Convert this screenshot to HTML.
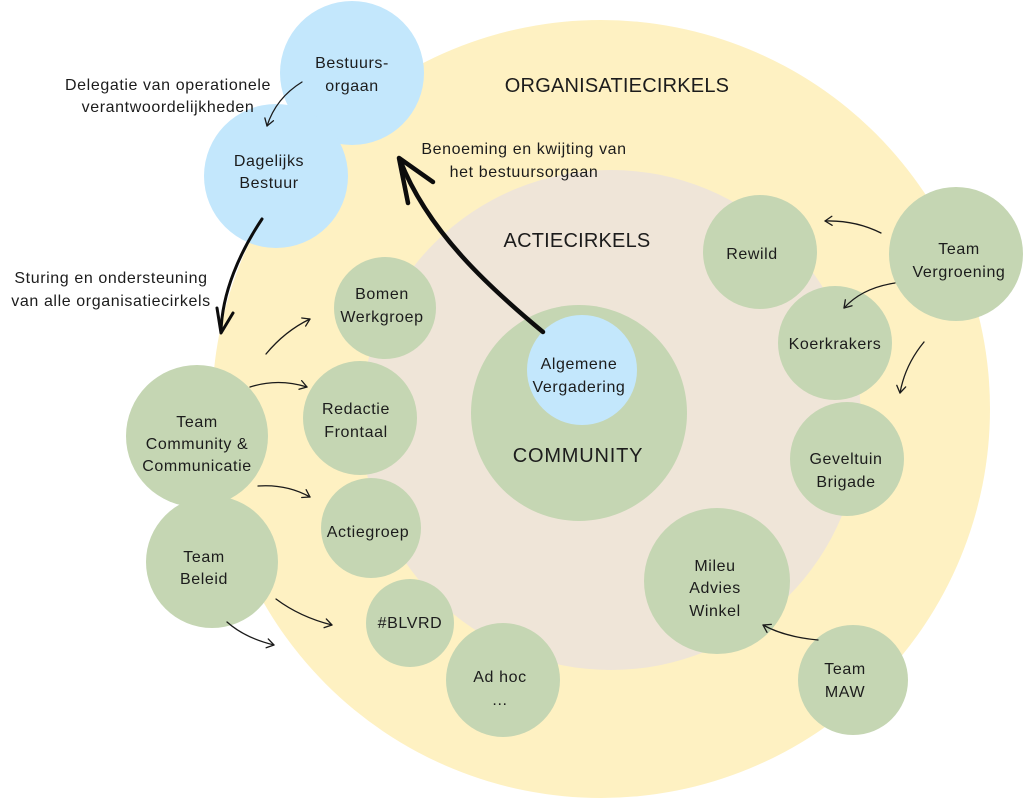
<!DOCTYPE html>
<html><head><meta charset="utf-8"><style>
html,body{margin:0;padding:0;background:#fff;}
svg{display:block;}
text{font-family:"Liberation Sans",sans-serif;fill:#1c1c1c;}
.n{font-size:16px;letter-spacing:0.6px;text-anchor:middle;}
.h{font-size:20px;letter-spacing:0.2px;text-anchor:middle;}
.t{fill:none;stroke:#1a1a1a;stroke-width:1.3;stroke-linecap:round;}
</style></head><body>
<svg width="1024" height="799" viewBox="0 0 1024 799" xmlns="http://www.w3.org/2000/svg">
<defs>
<marker id="a" markerWidth="12" markerHeight="12" refX="9" refY="6" orient="auto" markerUnits="userSpaceOnUse">
<path d="M2,1.5 L9,6 L2,10.5" fill="none" stroke="#1a1a1a" stroke-width="1.3" stroke-linecap="round" stroke-linejoin="round"/>
</marker>
</defs>
<!-- big circles -->
<circle cx="601" cy="409" r="389" fill="#fef1c2"/>
<circle cx="611" cy="420" r="250" fill="#efe5d8"/>
<!-- blue blobs -->
<ellipse cx="352" cy="73" rx="72" ry="72" fill="#c3e7fc"/>
<ellipse cx="276" cy="176" rx="72" ry="72" fill="#c3e7fc"/>
<!-- community -->
<circle cx="579" cy="413" r="108" fill="#c5d6b3"/>
<circle cx="582" cy="370" r="55" fill="#c3e7fc"/>
<!-- green nodes -->
<g fill="#c5d6b3">
<circle cx="385" cy="308" r="51"/>
<circle cx="360" cy="418" r="57"/>
<circle cx="371" cy="528" r="50"/>
<circle cx="410" cy="623" r="44"/>
<circle cx="503" cy="680" r="57"/>
<circle cx="197" cy="436" r="71"/>
<circle cx="212" cy="562" r="66"/>
<circle cx="760" cy="252" r="57"/>
<circle cx="956" cy="254" r="67"/>
<circle cx="835" cy="343" r="57"/>
<circle cx="847" cy="459" r="57"/>
<circle cx="717" cy="581" r="73"/>
<circle cx="853" cy="680" r="55"/>
</g>
<!-- headings -->
<text class="h" x="617" y="92">ORGANISATIECIRKELS</text>
<text class="h" x="577" y="247">ACTIECIRKELS</text>
<text class="h" x="578" y="462" style="letter-spacing:0.8px">COMMUNITY</text>
<!-- labels -->
<text class="n" x="352" y="68">Bestuurs-</text>
<text class="n" x="352" y="91">orgaan</text>
<text class="n" x="168" y="90">Delegatie van operationele</text>
<text class="n" x="168" y="112">verantwoordelijkheden</text>
<text class="n" x="269" y="166">Dagelijks</text>
<text class="n" x="269" y="188">Bestuur</text>
<text class="n" x="111" y="283">Sturing en ondersteuning</text>
<text class="n" x="111" y="306">van alle organisatiecirkels</text>
<text class="n" x="524" y="154">Benoeming en kwijting van</text>
<text class="n" x="524" y="177">het bestuursorgaan</text>
<text class="n" x="579" y="369">Algemene</text>
<text class="n" x="579" y="392">Vergadering</text>
<text class="n" x="382" y="299">Bomen</text>
<text class="n" x="382" y="322">Werkgroep</text>
<text class="n" x="356" y="414">Redactie</text>
<text class="n" x="356" y="437">Frontaal</text>
<text class="n" x="368" y="537">Actiegroep</text>
<text class="n" x="410" y="628">#BLVRD</text>
<text class="n" x="500" y="682">Ad hoc</text>
<text class="n" x="500" y="705">...</text>
<text class="n" x="197" y="427">Team</text>
<text class="n" x="197" y="449">Community &amp;</text>
<text class="n" x="197" y="471">Communicatie</text>
<text class="n" x="204" y="562">Team</text>
<text class="n" x="204" y="584">Beleid</text>
<text class="n" x="752" y="259">Rewild</text>
<text class="n" x="959" y="254">Team</text>
<text class="n" x="959" y="277">Vergroening</text>
<text class="n" x="835" y="349">Koerkrakers</text>
<text class="n" x="846" y="464">Geveltuin</text>
<text class="n" x="846" y="487">Brigade</text>
<text class="n" x="715" y="571">Mileu</text>
<text class="n" x="715" y="593">Advies</text>
<text class="n" x="715" y="616">Winkel</text>
<text class="n" x="845" y="674">Team</text>
<text class="n" x="845" y="697">MAW</text>
<!-- thick arrows -->
<path d="M543,332 C490,288 428,232 400,160" fill="none" stroke="#0d0d0d" stroke-width="4.5" stroke-linecap="round"/>
<path d="M408,203 L399,158 L433,182" fill="none" stroke="#0d0d0d" stroke-width="4.5" stroke-linecap="round" stroke-linejoin="round"/>
<path d="M262,219 C240,252 222,292 221,332" fill="none" stroke="#0d0d0d" stroke-width="3" stroke-linecap="round"/>
<path d="M217,308 L221,333 L233,313" fill="none" stroke="#0d0d0d" stroke-width="3" stroke-linecap="round" stroke-linejoin="round"/>
<!-- thin arrows -->
<path class="t" marker-end="url(#a)" d="M302,82 Q276,98 267,126"/>
<path class="t" marker-end="url(#a)" d="M266,354 Q285,331 310,319"/>
<path class="t" marker-end="url(#a)" d="M250,387 Q278,378 307,387"/>
<path class="t" marker-end="url(#a)" d="M258,486 Q287,484 310,497"/>
<path class="t" marker-end="url(#a)" d="M276,599 Q300,617 332,625"/>
<path class="t" marker-end="url(#a)" d="M227,622 Q245,638 274,645"/>
<path class="t" marker-end="url(#a)" d="M881,233 Q855,220 825,221"/>
<path class="t" marker-end="url(#a)" d="M895,283 Q862,288 844,308"/>
<path class="t" marker-end="url(#a)" d="M924,342 Q905,365 900,393"/>
<path class="t" marker-end="url(#a)" d="M818,640 Q785,637 763,625"/>
</svg>
</body></html>
